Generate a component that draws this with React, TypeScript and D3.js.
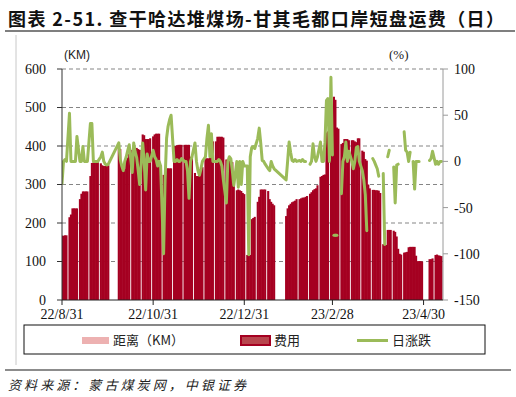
import React from "react";
import * as d3 from "d3";

const N = null;
const _ = undefined;

const START = "2022-08-31";

// 费用 (daily, null = no data)
const fee: (number | null)[] = [
  167, 167, 168, 168, N,
  215, 222, 238, 238, 238, 238, N,
  262, 276, 282, 282, 282, 282, N,
  322, 356, 357, 357, 358, 358, N,
  355, 350, 348, 348, 348, 350, N,
  N, N, N, N, N, 402, 392,
  345, 336, 340, 365, 370, 380, N,
  390, 392, 395, 395, 392, 390, N,
  430, 428, 418, 418, 418, 420, N,
  425, 430, 432, 432, 432, 333, N,
  325, 330, 342, 342, 342, 342, N,
  400, 400, 402, 403, 403, 403, N,
  403, 403, 403, 403, 372, 370, N,
  330, 322, 322, 322, 345, 345, N,
  368, 368, 368, 370, 410, 412, N,
  412, 424, 424, 424, 424, 422, N,
  365, 362, 362, 360, 358, 300, N,
  285, 287, 285, 283, 278, 275, N,
  117, 117, 117, 210, 213, 216, N,
  255, 268, 287, 287, 287, 287, N,
  283, 262, 255, 250, 246, N, N,
  N, N, N, N, N, 218, 238,
  246, 250, 254, 256, 258, 262, N,
  262, 264, 266, 266, 268, 270, N,
  276, 280, 285, 288, 290, 298, N,
  320, 322, 325, 326, 435, 438, N,
  440, 445, 528, 520, 448, 445, N,
  405, 408, 418, 418, 418, 415, N,
  415, 415, 412, 410, 420, 420, N,
  388, 385, 366, 362, 300, 290, N,
  286, 286, 285, 285, 284, 278, N,
  145, 145, 143, 182, 182, 182, N,
  180, 177, 165, 133, 120, 118, N,
  123, 124, 125, 137, 138, 138, 138,
  138, 115, 101, 101, 101, 100, N,
  N, N, N, 106, 106, 108, N,
  117, 118, 116, 115, 114,
];

// 日涨跌 (%) daily; undefined = no point (line connects), null = break
const chg: (number | null | undefined)[] = [
  -24, 0, 2, 0, _,
  52, 0, 0, 0, 0, 27, _,
  0, 0, 16, 0, 0, 0, _,
  41, 41, 0, 0, 0, 0, _,
  5, 10, 0, -3, -4, -3, _,
  _, _, _, _, _, 20, 2,
  -5, -10, 0, 5, 12, 18, _,
  -12, 20, 10, 4, -10, -25, _,
  20, 0, -31, 8, 0, 0, _,
  12, 5, 2, -5, 0, -5, _,
  -100, -20, 25, 38, 45, 50, _,
  0, 0, 2, 0, 0, 3, _,
  0, 0, -10, -40, 0, 5, _,
  20, 0, -10, -15, -8, 0, _,
  5, 25, 39, 5, 30, 0, _,
  0, 0, 2, 0, -5, -20, _,
  -45, 0, 5, 3, -10, -26, _,
  0, -28, 0, -25, 0, -5, _,
  -5, -101, 5, 15, 16, 14, _,
  25, 36, 20, 1, 0, -3, _,
  -8, -10, 0, -5, -8, _, _,
  _, _, _, _, _, -20, 0,
  21, 10, 1, 0, 2, 0, _,
  1, 0, 2, 0, 0, N, _,
  -3, 0, 19, 5, 0, 5, _,
  21, 0, 0, 20, 66, 68, 0,
  91, 7, N, -80, N, N, _,
  -35, 0, 5, 21, 0, 11, _,
  0, -8, 0, 15, 16, 0, _,
  -10, -20, -36, -75, N, N, _,
  3, 0, -4, -8, -16, N, _,
  -13, -90, N, 5, 12, N, _,
  -6, -45, -4, -3, N, N, _,
  32, 12, 10, 0, 10, N, 0,
  -30, 0, 0, 0, N, N, N,
  N, N, N, 1, 3, 11, _,
  -3, 0, -3, 0, 0,
];

const leftTicks = [0, 100, 200, 300, 400, 500, 600];
const rightTicks = [-150, -100, -50, 0, 50, 100];
const xTickDates = ["2022-08-31", "2022-10-31", "2022-12-31", "2023-02-28", "2023-04-30"];
const xTickLabels = ["22/8/31", "22/10/31", "22/12/31", "23/2/28", "23/4/30"];

const TITLE = "图表 2-51. 查干哈达堆煤场-甘其毛都口岸短盘运费（日）";
const SOURCE = "资料来源：蒙古煤炭网，中银证券";
const legendNames = ["距离（KM）", "费用", "日涨跌"];

const SERIF = "'Liberation Serif', 'Times New Roman', serif";
const CJK = "'Noto Sans CJK SC', 'Noto Sans', sans-serif";
const RED = "#A50021";
const GREEN = "#9BBB59";

type P = { i: number; v: number | null | undefined };

export default function App() {
  const W = 516, H = 397;
  const L = 62, R = 443, T = 69, B = 300;
  const parse = d3.timeParse("%Y-%m-%d");
  const start = parse(START) as Date;

  const x = d3.scaleLinear().domain([0, fee.length]).range([L, R]);
  const yL = d3.scaleLinear().domain([0, 600]).range([B, T]);
  const yR = d3.scaleLinear().domain([-150, 100]).range([B, T]);
  const step = x(1) - x(0);

  const bars = fee.map((v, i) => ({ i, v })).filter((d) => d.v !== null) as { i: number; v: number }[];
  const pts: P[] = chg.map((v, i) => ({ i, v })).filter((p) => p.v !== undefined);
  const line = d3
    .line<P>()
    .defined((p) => p.v !== null)
    .x((p) => x(p.i))
    .y((p) => yR(p.v as number))
    .curve(d3.curveLinear);
  const iso = pts.filter(
    (p, k) =>
      p.v !== null &&
      (k === 0 || pts[k - 1].v === null) &&
      (k === pts.length - 1 || pts[k + 1].v === null)
  );
  const xTicks = xTickDates.map((s, k) => ({
    d: d3.timeDay.count(start, parse(s) as Date),
    label: xTickLabels[k],
  }));

  return (
    <div style={{ position: "fixed", left: 0, top: 0, width: W, height: H, background: "#fff" }}>
      <svg width={W} height={H} viewBox={`0 0 ${W} ${H}`} style={{ display: "block" }}>
        <defs>
          <clipPath id="plotclip">
            <rect x={L} y={T - 5} width={R - L} height={B - T + 5} />
          </clipPath>
        </defs>
        <rect x={0} y={0} width={W} height={H} fill="#fff" />

        {/* Title */}
        <text
          x={8}
          y={26}
          fontFamily={CJK}
          fontWeight={700}
          fontSize={18}
          fill="#111"
          textLength={496}
          lengthAdjust="spacing"
        >
          {TITLE}
        </text>
        <line x1={5} x2={515} y1={31} y2={31} stroke="#555" strokeWidth={1.5} />
        <line x1={16} x2={16} y1={35} y2={365} stroke="#c8c8c8" strokeWidth={1} />

        {/* axis unit labels */}
        <text x={64} y={59} fontFamily="'Liberation Sans Narrow', 'Liberation Sans', sans-serif" fontSize={12} fill="#222">
          (KM)
        </text>
        <text x={389} y={59} fontFamily={SERIF} fontSize={13} fill="#222">
          (%)
        </text>

        {/* grid */}
        {leftTicks
          .filter((t) => t > 0)
          .map((t) => (
            <line
              key={"g" + t}
              x1={L}
              x2={R}
              y1={yL(t)}
              y2={yL(t)}
              stroke="#858585"
              strokeWidth={1}
              strokeDasharray="4 3"
            />
          ))}

        {/* bars */}
        <g clipPath="url(#plotclip)">
          {bars.map((d) => (
            <rect
              key={"b" + d.i}
              x={x(d.i) - step / 2 - 0.3}
              width={step + 0.6}
              y={yL(d.v)}
              height={B - yL(d.v)}
              fill={RED}
            />
          ))}
        </g>

        {/* line */}
        <g clipPath="url(#plotclip)">
          <path
            d={line(pts) || ""}
            fill="none"
            stroke={GREEN}
            strokeWidth={3}
            strokeLinejoin="round"
            strokeLinecap="round"
          />
          {iso.map((p) => (
            <line
              key={"iso" + p.i}
              x1={x(p.i) - 1.5}
              x2={x(p.i) + 1.5}
              y1={yR(p.v as number)}
              y2={yR(p.v as number)}
              stroke={GREEN}
              strokeWidth={3}
              strokeLinecap="round"
            />
          ))}
        </g>

        {/* axes */}
        <line x1={L} x2={L} y1={T} y2={B} stroke="#333" strokeWidth={1} />
        <line x1={R} x2={R} y1={T} y2={B} stroke="#9a9a9a" strokeWidth={1} />
        <line x1={L} x2={R} y1={B} y2={B} stroke="#222" strokeWidth={1} />

        {leftTicks.map((t) => (
          <g key={"lt" + t}>
            <line x1={L - 5} x2={L} y1={yL(t)} y2={yL(t)} stroke="#333" />
            <text x={46} y={yL(t) + 4.5} textAnchor="end" fontFamily={SERIF} fontSize={14} fill="#111">
              {t}
            </text>
          </g>
        ))}
        {rightTicks.map((t) => (
          <g key={"rt" + t}>
            <line x1={R} x2={R + 5} y1={yR(t)} y2={yR(t)} stroke="#9a9a9a" />
            <text x={454} y={yR(t) + 5} textAnchor="start" fontFamily={SERIF} fontSize={14} fill="#111">
              {t}
            </text>
          </g>
        ))}
        {xTicks.map((t) => (
          <g key={"xt" + t.d}>
            <line x1={x(t.d)} x2={x(t.d)} y1={B} y2={B + 5} stroke="#222" />
            <text x={x(t.d)} y={319} textAnchor="middle" fontFamily={SERIF} fontSize={14} fill="#111">
              {t.label}
            </text>
          </g>
        ))}

        {/* legend */}
        <rect x={24} y={325} width={461} height={29} fill="#fff" stroke="#111" strokeWidth={1} />
        <rect x={82} y={337} width={27} height={7} fill="#EDB1B1" />
        <text x={113} y={345} fontFamily={CJK} fontSize={13} fill="#222">
          {legendNames[0]}
        </text>
        <rect x={241} y={336} width={29} height={9} fill="#B8464E" stroke={RED} strokeWidth={2} />
        <text x={274} y={345} fontFamily={CJK} fontSize={13} fill="#222">
          {legendNames[1]}
        </text>
        <line x1={357} x2={388} y1={340.5} y2={340.5} stroke={GREEN} strokeWidth={3} />
        <text x={392} y={345} fontFamily={CJK} fontSize={13} fill="#222">
          {legendNames[2]}
        </text>

        {/* source */}
        <line x1={5} x2={511} y1={370} y2={370} stroke="#666" strokeWidth={1.5} />
        <text
          x={8}
          y={390}
          fontFamily={CJK}
          fontStyle="italic"
          fontSize={13}
          fill="#222"
          textLength={238}
          lengthAdjust="spacing"
        >
          {SOURCE}
        </text>
      </svg>
    </div>
  );
}
